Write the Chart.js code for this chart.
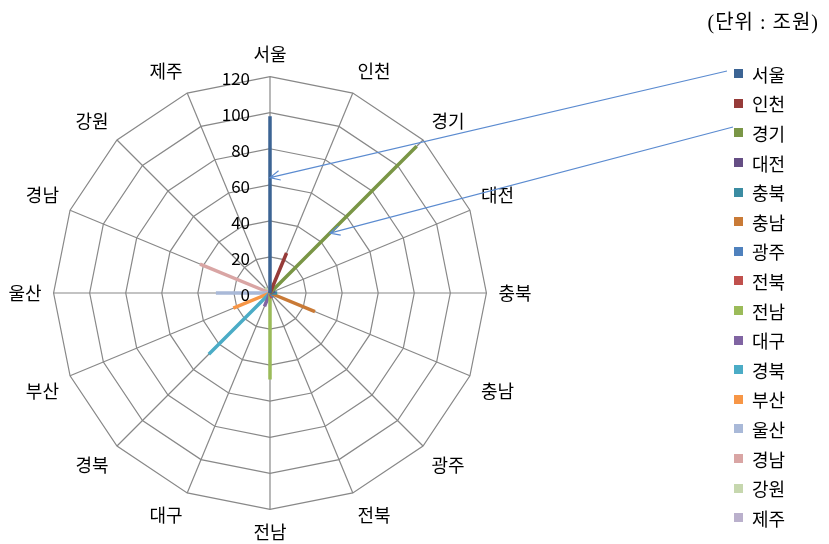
<!DOCTYPE html>
<html>
<head>
<meta charset="utf-8">
<script src="https://cdn.jsdelivr.net/npm/chart.js@4"></script>
<style>
  body { margin: 0; background: #fff; }
  #wrap { position: relative; width: 829px; height: 544px; }
  #unit { position: absolute; right: 10px; top: 6px; font: 20px "Liberation Serif", "Noto Sans CJK KR", serif; letter-spacing: 1px; color: #000; }
  #legend { position: absolute; left: 734px; top: 59px; font: 18px "Noto Sans CJK KR", sans-serif; color: #000; }
  #legend div { height: 29.6px; display: flex; align-items: center; }
  #legend span.box { width: 9px; height: 9px; margin-right: 9px; }
</style>
</head>
<body>
<div id="wrap">
  <canvas id="radarChart" width="829" height="544"></canvas>
  <div id="unit">(단위 : 조원)</div>
  <div id="legend"></div>
</div>
<script>
const regions = ['서울', '인천', '경기', '대전', '충북', '충남', '광주', '전북',
                 '전남', '대구', '경북', '부산', '울산', '경남', '강원', '제주'];
const amounts = [98, 24, 115, 3, 4, 27, 3, 3, 48, 8, 48, 22, 30, 42, 4, 3];
const colors = ['#3c6494', '#963b39', '#7a9646', '#654e84', '#3b8ca2', '#c97a36',
                '#4f81bd', '#c0504d', '#9bbb59', '#8064a2', '#4bacc6', '#f79646',
                '#a9b9d8', '#d9a5a4', '#c6d7ae', '#bab0cc'];
const tickValues = [0, 20, 40, 60, 80, 100, 120];

// one series per region, value only on its own axis
const datasets = regions.map((name, i) => ({
    label: name,
    data: regions.map((_, j) => (i === j ? amounts[i] : 0)),
    backgroundColor: colors[i],
    borderColor: colors[i],
    borderWidth: 3.5,
    pointRadius: 0,
    fill: true
}));

// legend on the right
const legendBox = document.getElementById('legend');
regions.forEach((name, i) => {
    const row = document.createElement('div');
    row.innerHTML = '<span class="box" style="background:' + colors[i] + '"></span>' + name;
    legendBox.appendChild(row);
});

// tick numbers left of the vertical axis, plus the two pointer arrows
const extras = {
    id: 'extras',
    afterDatasetsDraw(chart) {
        const ctx = chart.ctx;
        const r = chart.scales.r;
        ctx.save();
        ctx.font = '17px "Noto Sans CJK KR", sans-serif';
        ctx.fillStyle = '#000';
        ctx.textAlign = 'right';
        ctx.textBaseline = 'middle';
        tickValues.forEach(v => {
            ctx.fillText(String(v), r.xCenter - 20, r.yCenter - r.getDistanceFromCenterForValue(v) + 2);
        });

        const arrows = [
            { from: [727, 71], to: r.getPointPositionForValue(0, 64) },
            { from: [733, 127], to: r.getPointPositionForValue(2, 47) }
        ];
        ctx.strokeStyle = '#5b8bd0';
        ctx.lineWidth = 1.2;
        arrows.forEach(a => {
            const [x0, y0] = a.from;
            const x1 = a.to.x, y1 = a.to.y;
            const ang = Math.atan2(y1 - y0, x1 - x0);
            ctx.beginPath();
            ctx.moveTo(x0, y0);
            ctx.lineTo(x1, y1);
            ctx.moveTo(x1 - 11 * Math.cos(ang - 0.45), y1 - 11 * Math.sin(ang - 0.45));
            ctx.lineTo(x1, y1);
            ctx.lineTo(x1 - 11 * Math.cos(ang + 0.45), y1 - 11 * Math.sin(ang + 0.45));
            ctx.stroke();
        });
        ctx.restore();
    }
};

new Chart(document.getElementById('radarChart').getContext('2d'), {
    type: 'radar',
    data: { labels: regions, datasets: datasets },
    options: {
        responsive: false,
        animation: false,
        layout: { padding: { left: 7, right: 296, top: 44, bottom: 0 } },
        plugins: { legend: { display: false }, tooltip: { enabled: false } },
        elements: { line: { tension: 0 } },
        scales: {
            r: {
                min: 0,
                max: 120,
                ticks: { display: false, stepSize: 20 },
                grid: { color: '#888', lineWidth: 1.2, circular: false },
                angleLines: { color: '#888', lineWidth: 1.2 },
                pointLabels: {
                    padding: 12,
                    color: '#000',
                    font: { family: '"Noto Sans CJK KR", sans-serif', size: 18 }
                }
            }
        }
    },
    plugins: [extras]
});
</script>
</body>
</html>
